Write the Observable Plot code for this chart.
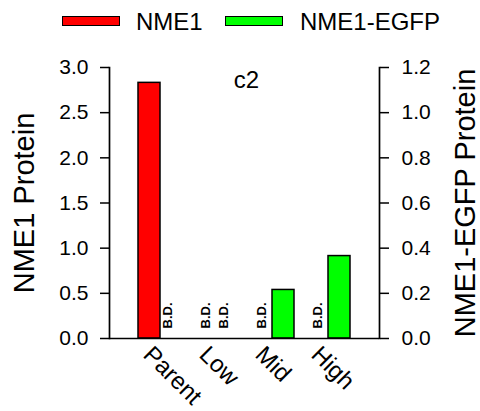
<!DOCTYPE html>
<html>
<head>
<meta charset="utf-8">
<script src="https://cdn.jsdelivr.net/npm/d3@7"></script>
<script src="https://cdn.jsdelivr.net/npm/@observablehq/plot@0.6"></script>
<style>
  body { margin: 0; background: #fff; font-family: "Liberation Sans", Arial, sans-serif; }
  #legend { position: relative; height: 42px; width: 480px; font-size: 24px; color: #000; }
  #legend .sw { position: absolute; top: 16px; width: 56px; height: 8px; border: 1.5px solid #000; }
  #legend .lb { position: absolute; top: 8px; line-height: 28px; }
</style>
</head>
<body>
<div id="legend"></div>
<div id="chart"></div>
<script>
// Cell lines (clones) on the x axis
const groups = ["Parent", "Low", "Mid", "High"];
// NME1 protein (left axis); null = below detection
const nme1 = [2.83, null, null, null];
// NME1-EGFP protein (right axis); null = below detection
const egfp = [null, null, 0.215, 0.365];
// Tick values for each axis
const nme1Ticks = [0, 0.5, 1.0, 1.5, 2.0, 2.5, 3.0];
const egfpTicks = [0, 0.2, 0.4, 0.6, 0.8, 1.0, 1.2];
// Series names and colours
const seriesNames = ["NME1", "NME1-EGFP"];
const seriesColors = ["#ff0000", "#00ff00"];

// The right axis (0–1.2) is drawn on the left scale (0–3)
const ratio = 3.0 / 1.2;

const nmeRows = groups.map((g, i) => ({group: g, value: nme1[i]}));
const egfpRows = groups.map((g, i) => ({group: g, value: egfp[i]}));

// Legend
const legend = document.getElementById("legend");
const legendPos = [[62, 136], [225, 300]];
seriesNames.forEach((name, i) => {
  const sw = document.createElement("div");
  sw.className = "sw";
  sw.style.left = legendPos[i][0] + "px";
  sw.style.background = seriesColors[i];
  const lb = document.createElement("div");
  lb.className = "lb";
  lb.style.left = legendPos[i][1] + "px";
  lb.textContent = name;
  legend.append(sw, lb);
});

const font = "'Liberation Sans', Arial, sans-serif";

const chart = Plot.plot({
  width: 480,
  height: 369,
  marginTop: 25,
  marginBottom: 73,
  marginLeft: 109,
  marginRight: 101,
  style: {fontFamily: font, color: "#000", background: "#fff"},
  x: {domain: groups, paddingInner: 0.214, paddingOuter: 0.509, align: 0.5},
  y: {domain: [0, 3]},
  marks: [
    // NME1 bars, left half of each group
    Plot.barY(nmeRows.filter(d => d.value != null), {
      x: "group", y: "value", fill: seriesColors[0], stroke: "#000", strokeWidth: 1.5, insetRight: 22
    }),
    // NME1-EGFP bars, right half of each group, on the right-axis scale
    Plot.barY(egfpRows.filter(d => d.value != null), {
      x: "group", y: d => d.value * ratio, fill: seriesColors[1], stroke: "#000", strokeWidth: 1.5, insetLeft: 22
    }),
    // Below-detection markers
    Plot.text(nmeRows.filter(d => d.value == null), {
      x: "group", y: 0, text: () => "B.D.", rotate: -90, textAnchor: "start",
      dx: -11, dy: -10, fontSize: 13, fontWeight: "bold"
    }),
    Plot.text(egfpRows.filter(d => d.value == null), {
      x: "group", y: 0, text: () => "B.D.", rotate: -90, textAnchor: "start",
      dx: 7, dy: -10, fontSize: 13, fontWeight: "bold"
    }),
    // Axis lines
    Plot.frame({anchor: "left", strokeWidth: 1.7}),
    Plot.frame({anchor: "right", strokeWidth: 1.7}),
    Plot.ruleY([0], {strokeWidth: 1.7}),
    // Left axis
    Plot.axisY({
      anchor: "left", ticks: nme1Ticks, tickFormat: d => d.toFixed(1),
      tickSize: 9, tickPadding: 12, fontSize: 21, strokeWidth: 1.5,
      label: "NME1 Protein", labelAnchor: "center", labelOffset: 96, labelArrow: false
    }),
    // Right axis
    Plot.axisY({
      anchor: "right", ticks: egfpTicks.map(t => t * ratio), tickFormat: d => (d / ratio).toFixed(1),
      tickSize: 9, tickPadding: 13, fontSize: 21, strokeWidth: 1.5,
      label: "NME1-EGFP Protein", labelAnchor: "center", labelOffset: 95, labelArrow: false
    }),
    // Category labels
    Plot.axisX({
      tickSize: 0, tickRotate: 45, tickPadding: 12, fontSize: 24, label: null, dx: -13
    }),
    // Panel tag
    Plot.text(["c2"], {frameAnchor: "top", text: d => d, fontSize: 24, lineAnchor: "top", dx: 2, dy: 3})
  ]
});
// Axis titles are larger than tick labels
chart.querySelectorAll("[aria-label='y-axis label']").forEach(n => (n.style.fontSize = "29px"));
document.getElementById("chart").append(chart);
</script>
</body>
</html>
